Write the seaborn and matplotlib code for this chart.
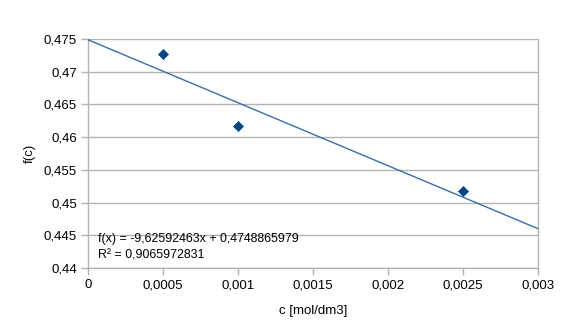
import numpy as np
import pandas as pd
import matplotlib
matplotlib.use("Agg")
import matplotlib.pyplot as plt
from matplotlib.ticker import FuncFormatter, MultipleLocator
import seaborn as sns

# Measured points
concentration = [0.0005, 0.001, 0.0025]
f_values = [0.4727494, 0.4616930, 0.4517137]

# Linear trend line parameters
fit_slope = -9.62592463
fit_intercept = 0.4748865979
r_squared = 0.9065972831

x_range = [0.0, 0.003]
y_range = [0.44, 0.475]

sns.set_theme(style="white")
plt.rcParams["font.family"] = ["Liberation Sans", "DejaVu Sans"]

fig = plt.figure(figsize=(5.75, 3.36), dpi=100)
W, H = 575, 336
left, right, top, bottom = 88, 538, 39, 268
ax = fig.add_axes([left / W, (H - bottom) / H, (right - left) / W, (bottom - top) / H])

points = pd.DataFrame({"c": concentration, "f": f_values})
trend = pd.DataFrame({"c": x_range,
                      "f": [fit_slope * x + fit_intercept for x in x_range]})

sns.lineplot(data=trend, x="c", y="f", ax=ax, color="#3a6ea5", linewidth=1.0, zorder=3)
sns.scatterplot(data=points, x="c", y="f", ax=ax, marker="D", s=26,
                color="#004586", edgecolor="#004586", linewidth=0.5, zorder=4)

ax.set_xlim(*x_range)
ax.set_ylim(*y_range)
ax.xaxis.set_major_locator(MultipleLocator(0.0005))
ax.yaxis.set_major_locator(MultipleLocator(0.005))


def comma_fmt(decimals):
    def f(v, pos):
        s = f"{v:.{decimals}f}".rstrip("0").rstrip(".")
        if s in ("", "-0"):
            s = "0"
        return s.replace(".", ",")
    return FuncFormatter(f)


ax.xaxis.set_major_formatter(comma_fmt(4))
ax.yaxis.set_major_formatter(comma_fmt(3))

grid_c = "#b3b3b3"
ax.grid(axis="y", color=grid_c, linewidth=1.0)
ax.grid(axis="x", visible=False)
ax.set_axisbelow(True)
for sp in ax.spines.values():
    sp.set_color(grid_c)
    sp.set_linewidth(1.0)
ax.spines["top"].set_visible(False)

ax.tick_params(axis="both", which="major", length=5, width=1.0, color=grid_c,
               labelsize=9.5, labelcolor="#000000", pad=3, direction="out")
ax.tick_params(axis="y", left=True)
ax.tick_params(axis="x", bottom=True)

ax.set_xlabel("c [mol/dm3]", fontsize=9.5, color="#000000")
ax.set_ylabel("f(c)", fontsize=9.5, color="#000000")
ax.xaxis.set_label_coords(0.5, -(311 - bottom) / (bottom - top), transform=ax.transAxes)
ax.yaxis.set_label_coords((30 - left) / (right - left), 0.5, transform=ax.transAxes)
ax.xaxis.label.set_va("center")
ax.yaxis.label.set_va("center")

eq = f"f(x) = {fit_slope:.8f}x + {fit_intercept:.10f}".replace(".", ",")
r2 = f"R² = {r_squared:.10f}".replace(".", ",")
ax.text(10 / (right - left), 1 - (233 - top) / (bottom - top), eq + "\n" + r2,
        transform=ax.transAxes, ha="left", va="top", fontsize=8.9,
        color="#000000", linespacing=1.45)

fig.savefig("out.png", dpi=100)
